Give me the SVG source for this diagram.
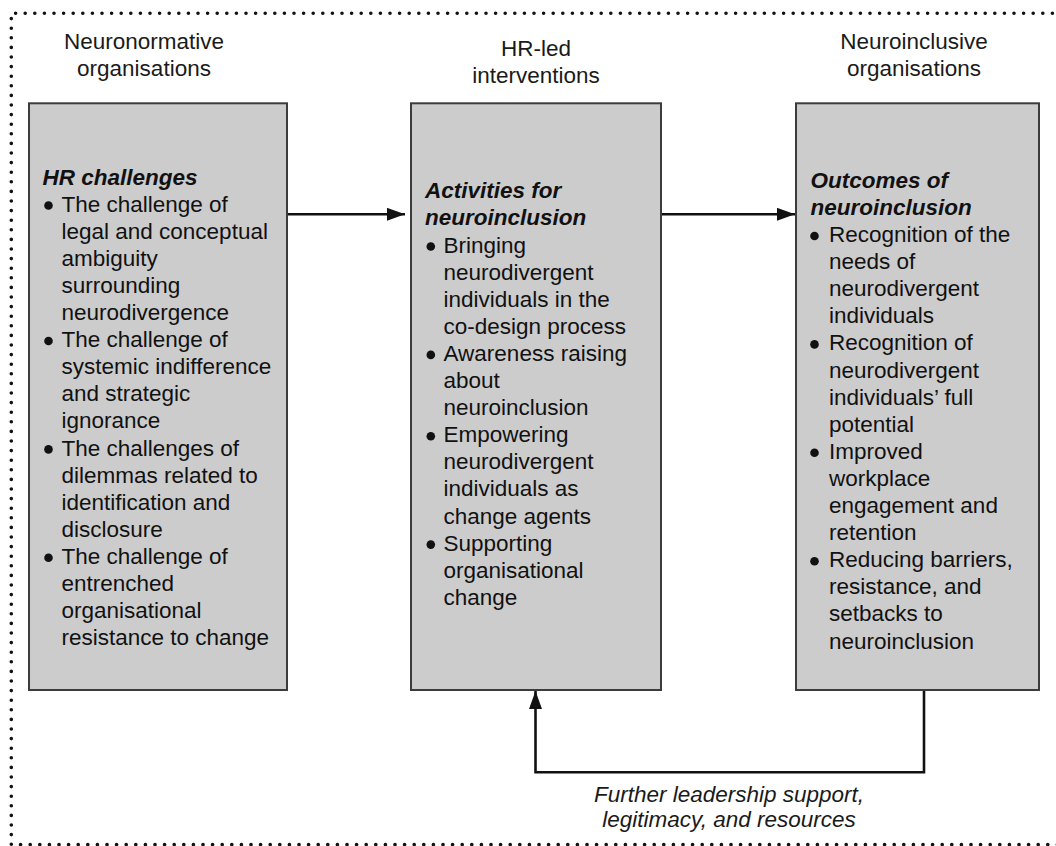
<svg xmlns="http://www.w3.org/2000/svg" width="1056" height="846" viewBox="0 0 1056 846">
  <defs>
    <style>
      .box { fill: #cccccc; stroke: #3c3c3c; stroke-width: 2; }
      .t { font-family: "Liberation Sans", Arial, sans-serif; font-size: 22.5px; fill: #111111; }
      .h { font-weight: bold; font-style: italic; }
      .hdr { font-family: "Liberation Sans", Arial, sans-serif; font-size: 22.5px; fill: #1a1a1a; text-anchor: middle; }
      .lbl { font-family: "Liberation Sans", Arial, sans-serif; font-size: 22.5px; font-style: italic; fill: #1a1a1a; text-anchor: middle; }
      .bul { fill: #111111; }
      .conn { fill: none; stroke: #111111; stroke-width: 2.6; }
      .border { fill: none; stroke: #111111; stroke-width: 3.6; stroke-linecap: round; stroke-dasharray: 0 9.6; }
    </style>
    <marker id="arrow" markerUnits="userSpaceOnUse" markerWidth="18" markerHeight="13" refX="18" refY="6.5" orient="auto">
      <path d="M0,0 L18,6.5 L0,13 z" fill="#111111"/>
    </marker>
  </defs>

  <rect width="1056" height="846" fill="#ffffff"/>

  <path class="border" d="M1062,13.3 H11.3 V844.5 H1062"/>

  <g id="header-neuronormative">
    <text class="hdr" x="144" y="49">Neuronormative</text>
    <text class="hdr" x="144" y="76">organisations</text>
  </g>
  <g id="header-hr-led">
    <text class="hdr" x="536" y="56">HR-led</text>
    <text class="hdr" x="536" y="83">interventions</text>
  </g>
  <g id="header-neuroinclusive">
    <text class="hdr" x="914" y="49">Neuroinclusive</text>
    <text class="hdr" x="914" y="76">organisations</text>
  </g>

  <g id="node-hr-challenges">
    <rect class="box" x="29" y="103.3" width="258" height="586.7"/>
    <text class="t h" x="42.5" y="184.5">HR challenges</text>
    <circle class="bul" cx="48.5" cy="205.5" r="4.3"/>
    <circle class="bul" cx="48.5" cy="341" r="4.3"/>
    <circle class="bul" cx="48.5" cy="449.4" r="4.3"/>
    <circle class="bul" cx="48.5" cy="557.8" r="4.3"/>
    <text class="t">
      <tspan x="61.5" y="211.6">The challenge of</tspan>
      <tspan x="61.5" y="238.7">legal and conceptual</tspan>
      <tspan x="61.5" y="265.8">ambiguity</tspan>
      <tspan x="61.5" y="292.9">surrounding</tspan>
      <tspan x="61.5" y="320">neurodivergence</tspan>
      <tspan x="61.5" y="347.1">The challenge of</tspan>
      <tspan x="61.5" y="374.2">systemic indifference</tspan>
      <tspan x="61.5" y="401.3">and strategic</tspan>
      <tspan x="61.5" y="428.4">ignorance</tspan>
      <tspan x="61.5" y="455.5">The challenges of</tspan>
      <tspan x="61.5" y="482.6">dilemmas related to</tspan>
      <tspan x="61.5" y="509.7">identification and</tspan>
      <tspan x="61.5" y="536.8">disclosure</tspan>
      <tspan x="61.5" y="563.9">The challenge of</tspan>
      <tspan x="61.5" y="591">entrenched</tspan>
      <tspan x="61.5" y="618.1">organisational</tspan>
      <tspan x="61.5" y="645.2">resistance to change</tspan>
    </text>
  </g>

  <g id="node-activities">
    <rect class="box" x="411" y="103.3" width="250" height="586.7"/>
    <text class="t h">
      <tspan x="425" y="198.3">Activities for</tspan>
      <tspan x="425" y="225.4">neuroinclusion</tspan>
    </text>
    <circle class="bul" cx="430.8" cy="246.5" r="4.3"/>
    <circle class="bul" cx="430.8" cy="354.9" r="4.3"/>
    <circle class="bul" cx="430.8" cy="436.2" r="4.3"/>
    <circle class="bul" cx="430.8" cy="544.6" r="4.3"/>
    <text class="t">
      <tspan x="443.5" y="252.5">Bringing</tspan>
      <tspan x="443.5" y="279.6">neurodivergent</tspan>
      <tspan x="443.5" y="306.7">individuals in the</tspan>
      <tspan x="443.5" y="333.8">co-design process</tspan>
      <tspan x="443.5" y="360.9">Awareness raising</tspan>
      <tspan x="443.5" y="388">about</tspan>
      <tspan x="443.5" y="415.1">neuroinclusion</tspan>
      <tspan x="443.5" y="442.2">Empowering</tspan>
      <tspan x="443.5" y="469.3">neurodivergent</tspan>
      <tspan x="443.5" y="496.4">individuals as</tspan>
      <tspan x="443.5" y="523.5">change agents</tspan>
      <tspan x="443.5" y="550.6">Supporting</tspan>
      <tspan x="443.5" y="577.7">organisational</tspan>
      <tspan x="443.5" y="604.8">change</tspan>
    </text>
  </g>

  <g id="node-outcomes">
    <rect class="box" x="796" y="103.3" width="243" height="586.7"/>
    <text class="t h">
      <tspan x="810.5" y="187.8">Outcomes of</tspan>
      <tspan x="810.5" y="214.9">neuroinclusion</tspan>
    </text>
    <circle class="bul" cx="814.5" cy="236" r="4.3"/>
    <circle class="bul" cx="814.5" cy="344.4" r="4.3"/>
    <circle class="bul" cx="814.5" cy="452.8" r="4.3"/>
    <circle class="bul" cx="814.5" cy="561.2" r="4.3"/>
    <text class="t">
      <tspan x="829" y="242">Recognition of the</tspan>
      <tspan x="829" y="269.1">needs of</tspan>
      <tspan x="829" y="296.2">neurodivergent</tspan>
      <tspan x="829" y="323.3">individuals</tspan>
      <tspan x="829" y="350.4">Recognition of</tspan>
      <tspan x="829" y="377.5">neurodivergent</tspan>
      <tspan x="829" y="404.6">individuals’ full</tspan>
      <tspan x="829" y="431.7">potential</tspan>
      <tspan x="829" y="458.8">Improved</tspan>
      <tspan x="829" y="485.9">workplace</tspan>
      <tspan x="829" y="513">engagement and</tspan>
      <tspan x="829" y="540.1">retention</tspan>
      <tspan x="829" y="567.2">Reducing barriers,</tspan>
      <tspan x="829" y="594.3">resistance, and</tspan>
      <tspan x="829" y="621.4">setbacks to</tspan>
      <tspan x="829" y="648.5">neuroinclusion</tspan>
    </text>
  </g>

  <g id="connectors">
    <path class="conn" d="M288,214.3 H405" marker-end="url(#arrow)"/>
    <path class="conn" d="M662,214.3 H795" marker-end="url(#arrow)"/>
    <path class="conn" d="M924,691 V772.3 H535.5 V691" marker-end="url(#arrow)"/>
  </g>

  <g id="label-feedback">
    <text class="lbl" x="729" y="801.7">Further leadership support,</text>
    <text class="lbl" x="729" y="826.7">legitimacy, and resources</text>
  </g>
</svg>
